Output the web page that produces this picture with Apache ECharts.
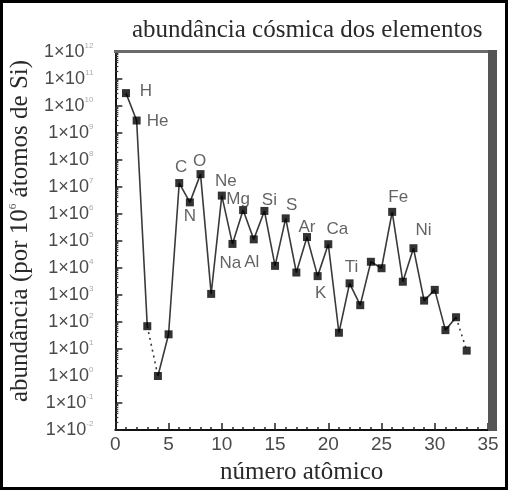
<!DOCTYPE html>
<html><head><meta charset="utf-8">
<script src="https://cdn.jsdelivr.net/npm/echarts@6/dist/echarts.min.js"></script>
<style>html,body{margin:0;padding:0;background:#fff}#c{width:510px;height:492px}</style>
</head><body><div id="c"></div>
<script>
// ---- data ----
const elements = ['H','He','Li','Be','B','C','N','O','F','Ne','Na','Mg','Al','Si','P','S','Cl','Ar','K','Ca','Sc','Ti','V','Cr','Mn','Fe','Co','Ni','Cu','Zn','Ga','Ge','As'];
const atomicNumbers = [1,2,3,4,5,6,7,8,9,10,11,12,13,14,15,16,17,18,19,20,21,22,23,24,25,26,27,28,29,30,31,32,33];
const abundance = [3e10, 2.9e9, 70, 1, 35, 1.4e7, 2.7e6, 3e7, 1.1e3, 4.8e6, 7.8e4, 1.4e6, 1.15e5, 1.3e6, 1.2e4, 6.9e5, 6.8e3, 1.4e5, 5e3, 7.6e4, 40, 2.7e3, 4.2e2, 1.7e4, 9.8e3, 1.2e6, 3.1e3, 5.4e4, 6.2e2, 1.55e3, 50, 1.5e2, 8.7];
const labelledElements = ['H','He','C','N','O','Ne','Na','Mg','Al','Si','S','Ar','K','Ca','Ti','Fe','Ni'];
const dottedSegments = [[3,4],[32,33]];
const xTickValues = [0,5,10,15,20,25,30,35];
const yExponents = [-2,-1,0,1,2,3,4,5,6,7,8,9,10,11,12];
const titleText = 'abundância cósmica dos elementos';
const xName = 'número atômico';
const yNameParts = ['abundância (por 10', '6', ' átomos de Si)'];

// ---- styling (label placement relative to marker) ----
const labelOffsets = {H:[20,-2],He:[21,1],C:[2,-16],N:[0,14],O:[-1,-13],Ne:[4,-14],Na:[-2,19],Mg:[-5,-11],Al:[-2,23],Si:[5,-11],S:[6,-13],Ar:[0,-10],K:[3,17],Ca:[9,-15],Ti:[2,-16],Fe:[6,-15],Ni:[10,-18]};

const pts = atomicNumbers.map((z,i)=>[z, abundance[i]]);
const isDotted = (a,b)=>dottedSegments.some(s=>s[0]===a&&s[1]===b);

const lineSeries = [];
let run = [pts[0]];
for (let i=1;i<pts.length;i++){
  const a = atomicNumbers[i-1], b = atomicNumbers[i];
  if (isDotted(a,b)) {
    if (run.length>1) lineSeries.push({data:run, dotted:false});
    lineSeries.push({data:[pts[i-1],pts[i]], dotted:true});
    run = [pts[i]];
  } else run.push(pts[i]);
}
if (run.length>1) lineSeries.push({data:run, dotted:false});

const minorY = [];
for (let k=yExponents[0]; k<yExponents[yExponents.length-1]; k++)
  for (let m=2;m<=9;m++) minorY.push(m*Math.pow(10,k));

const series = lineSeries.map(s=>({
  type:'line', data:s.data, symbol:'none', silent:true, z:2,
  lineStyle:{color:'#3a3a3a', width:1.6, type: s.dotted ? [2,4] : 'solid'}
}));
series.push({
  type:'scatter', symbol:'rect', symbolSize:8, z:3,
  itemStyle:{color:'#000'},
  data: pts.map((p,i)=>{
    const el = elements[i];
    const o = labelOffsets[el];
    const item = {value:p, name:el};
    if (labelledElements.includes(el) && o) {
      item.label = {show:true, formatter:el, position:'inside', offset:o,
        color:'#3c3c3c', fontSize:17, fontFamily:'Liberation Sans, Arial, sans-serif', align:'center', verticalAlign:'middle'};
    }
    return item;
  })
});

const chart = echarts.init(document.getElementById('c'), null, {renderer:'canvas'});
chart.setOption({
  animation:false,
  backgroundColor:'#fff',
  title:{text:titleText, left:127, top:13, textStyle:{fontFamily:'Liberation Serif, Times New Roman, serif', fontWeight:'normal', fontSize:25, color:'#2a2a2a'}},
  grid:{left:115, right:22, top:52, bottom:62},
  xAxis:{
    type:'value', min:0, max:35, interval:5,
    name:xName, nameLocation:'middle', nameGap:30,
    nameTextStyle:{fontFamily:'Liberation Serif, Times New Roman, serif', fontSize:25, color:'#2a2a2a'},
    axisLine:{show:true, onZero:false, lineStyle:{color:'#111', width:2}},
    axisTick:{show:true, inside:true, length:7, lineStyle:{color:'#222', width:1.5}, customValues:xTickValues},
    minorTick:{show:true, splitNumber:5, length:3, lineStyle:{color:'#222', width:1.5}},
    axisLabel:{color:'#4a4a4a', fontSize:19, fontFamily:'Liberation Sans, Arial, sans-serif', margin:5, customValues:xTickValues},
    splitLine:{show:false}
  },
  yAxis:[{
    type:'log', logBase:10, min:1e-2, max:1e12, interval:1,
    name: yNameParts[0]+'{s|'+yNameParts[1]+'}'+yNameParts[2], nameLocation:'middle', nameGap:78,
    nameTextStyle:{fontFamily:'Liberation Serif, Times New Roman, serif', fontSize:25, color:'#2a2a2a', padding:[0,0,0,20],
      rich:{s:{fontSize:11, verticalAlign:'top', fontFamily:'Liberation Serif, serif', color:'#555'}}},
    axisLine:{show:true, lineStyle:{color:'#111', width:2}},
    axisTick:{show:true, inside:true, length:7, lineStyle:{color:'#222', width:1.5}},
    axisLabel:{margin:22, formatter:(v)=>{
        const e = Math.round(Math.log10(v));
        return '{b|1×10}{s|'+e+'}';
      },
      rich:{b:{fontSize:18, color:'#4a4a4a', fontFamily:'Liberation Sans, Arial, sans-serif', lineHeight:20},
            s:{fontSize:8, color:'#aaa', verticalAlign:'top', fontFamily:'Liberation Sans, Arial, sans-serif'}}},
    splitLine:{show:false}
  },{
    type:'log', logBase:10, min:1e-2, max:1e12, position:'left',
    axisLine:{show:false},
    axisTick:{show:true, inside:true, length:3, lineStyle:{color:'#333', width:1.2}, customValues:minorY},
    axisLabel:{show:false},
    splitLine:{show:false}
  }],
  graphic:[
    {type:'rect', z:100, shape:{x:114, y:50, width:383, height:3}, style:{fill:'#6a6a6a'}},
    {type:'rect', z:100, shape:{x:488, y:50, width:9, height:381}, style:{fill:'#555'}},
    {type:'rect', z:100, shape:{x:1.5, y:1.5, width:505, height:487}, style:{fill:null, stroke:'#000', lineWidth:3}}
  ],
  series: series
});
</script></body></html>
